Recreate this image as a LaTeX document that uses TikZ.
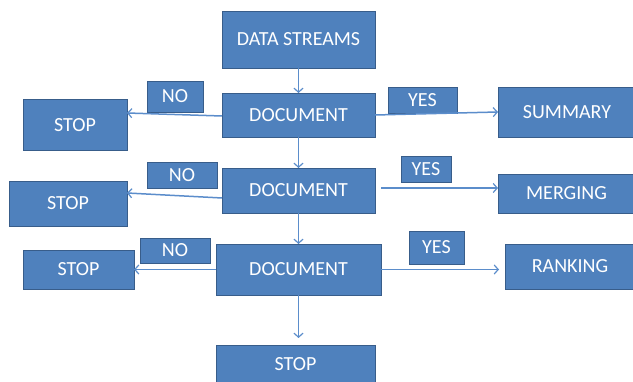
\documentclass[tikz,border=0pt]{standalone}
\usepackage{fontspec}
\setmainfont{Carlito}
\usetikzlibrary{arrows.meta}
\definecolor{boxfill}{HTML}{4F81BD}
\definecolor{boxline}{HTML}{385D8A}
\definecolor{flow}{HTML}{5B8DCB}
\tikzset{
  blk/.style={draw=boxline, fill=boxfill, line width=0.9pt, text=white,
    font=\fontsize{20}{24}\selectfont, inner sep=0pt, outer sep=0pt},
  arr/.style={draw=flow, line width=1.5pt,
    -{Straight Barb[length=4pt,width=9pt,line width=1.2pt]}}
}
\begin{document}
\begin{tikzpicture}[x=1pt,y=-1pt]
\useasboundingbox[fill=white] (0,0) rectangle (633,382);

% main column
\node[blk, minimum width=153, minimum height=57] (ds) at (298.5,39.5) {DATA STREAMS};
\node[blk, minimum width=153, minimum height=44] (d1) at (298.5,115) {DOCUMENT};
\node[blk, minimum width=153, minimum height=45] (d2) at (298.5,190.5) {DOCUMENT};
\node[blk, minimum width=165, minimum height=51] (d3) at (298.5,269.5) {DOCUMENT};
\node[blk, minimum width=159, minimum height=39] (s4) at (295.5,364.5) {STOP};

% left branch
\node[blk, minimum width=104, minimum height=51] (s1) at (75,125) {STOP};
\node[blk, minimum width=118, minimum height=45] (s2) at (68,203.5) {STOP};
\node[blk, minimum width=111, minimum height=39] (s3) at (78.5,269.5) {STOP};
\node[blk, minimum width=56, minimum height=31] (no1) at (175,96.5) {NO};
\node[blk, minimum width=70, minimum height=26] (no2) at (182,175) {NO};
\node[blk, minimum width=70, minimum height=25] (no3) at (175,250.5) {NO};

% right branch
\node[blk, minimum width=138, minimum height=50] (sum) at (567,112) {SUMMARY};
\node[blk, minimum width=137, minimum height=39] (mrg) at (566.5,193.5) {MERGING};
\node[blk, minimum width=130, minimum height=45] (rnk) at (570,266.5) {RANKING};
\node[blk, minimum width=69, minimum height=26] (yes1) at (422.5,100) {YES};
\node[blk, minimum width=50, minimum height=26] (yes2) at (426,169) {YES};
\node[blk, minimum width=55, minimum height=33] (yes3) at (436.5,247.5) {YES};

% vertical flow
\draw[arr] (ds) -- (d1);
\draw[arr] (d1) -- (d2);
\draw[arr] (d2) -- (d3);
\draw[arr, shorten >=7pt] (d3) -- (d3 |- s4.north);

% NO connectors
\draw[arr] ([yshift=-1pt]d1.west) -- ([yshift=12pt]s1.east);
\draw[arr] ([yshift=-7.5pt]d2.west) -- ([yshift=10.5pt]s2.east);
\draw[arr] (d3.west) -- (s3.east);

% YES connectors
\draw[arr] (d1.east) -- ([yshift=3pt]d1.east -| sum.west);
\draw[arr, shorten <=6pt] ([yshift=2.5pt]d2.east) -- ([yshift=2.5pt]d2.east -| mrg.west);
\draw[arr, shorten >=6pt] (d3.east) -- (d3.east -| rnk.west);
\end{tikzpicture}
\end{document}
